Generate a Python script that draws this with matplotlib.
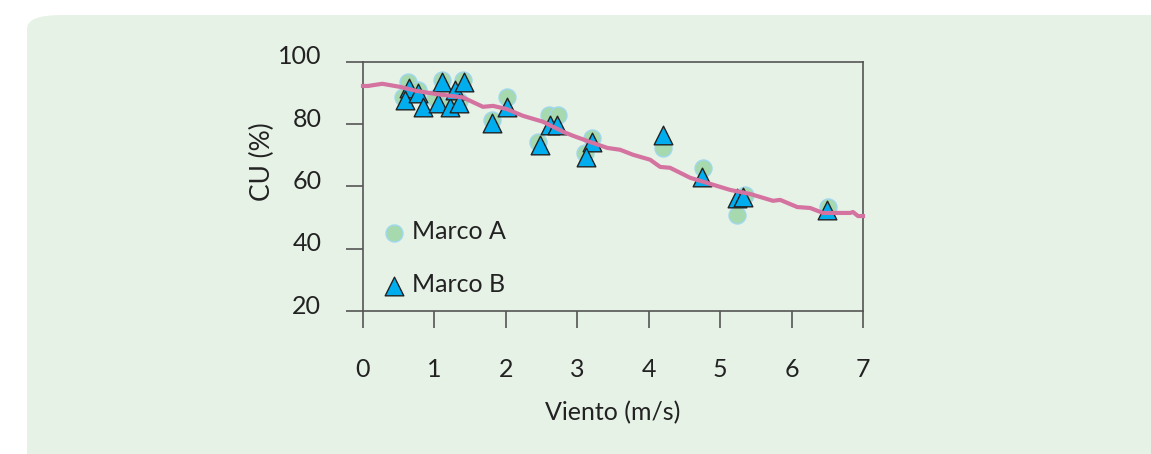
import matplotlib
matplotlib.use("Agg")
import matplotlib.pyplot as plt
from matplotlib.patches import FancyBboxPatch
from matplotlib.transforms import ScaledTranslation

# Marco A (circulos)
viento_a = [0.63, 0.56, 0.77, 1.10, 1.01, 1.22, 1.40, 1.35, 2.01, 1.80,
            2.61, 2.73, 2.45, 3.21, 3.11, 4.20, 4.76, 5.24, 5.35, 6.51]
cu_a = [93.6, 88.8, 91.1, 94.3, 88.5, 86.2, 94.3, 87.5, 88.8, 81.4,
        83.0, 83.0, 74.3, 75.6, 70.8, 72.4, 66.0, 50.9, 57.3, 53.4]

# Marco B (triangulos)
viento_b = [0.65, 0.59, 0.77, 0.84, 1.10, 1.05, 1.22, 1.29, 1.35, 1.41, 2.01,
            1.80, 2.62, 2.72, 2.48, 3.21, 3.12, 4.20, 4.74, 5.24, 5.32, 6.50]
cu_b = [91.7, 87.8, 90.1, 85.6, 93.6, 86.9, 85.6, 91.1, 86.9, 93.6, 85.6,
        80.5, 79.8, 79.8, 73.4, 74.3, 69.5, 76.6, 63.1, 56.3, 56.7, 52.5]

# curva de ajuste
curva_x = [0.0, 0.07, 0.27, 0.52, 0.75, 1.03, 1.40, 1.68, 1.82, 2.01, 2.24,
           2.52, 2.80, 2.94, 3.18, 3.42, 3.60, 3.78, 4.02, 4.16, 4.30, 4.58,
           5.14, 5.42, 5.74, 5.84, 6.08, 6.26, 6.44, 6.82, 6.86, 6.93, 7.0]
curva_y = [92.3, 92.3, 93.0, 92.0, 90.7, 89.7, 88.6, 85.6, 85.9, 84.9, 82.7,
           80.8, 77.6, 76.3, 74.3, 72.4, 71.8, 70.2, 68.6, 66.3, 66.0, 62.8,
           58.9, 57.6, 55.4, 55.7, 53.4, 53.1, 51.5, 51.5, 51.8, 50.5, 50.5]

x_ticks = [0, 1, 2, 3, 4, 5, 6, 7]
y_ticks = [20, 40, 60, 80, 100]

fondo = "#e7f2e7"
plt.rcParams["font.family"] = ["Lato", "DejaVu Sans"]

fig = plt.figure(figsize=(11.51, 4.54), dpi=100)
fig.patch.set_facecolor("white")

# panel de fondo con esquina redondeada (arriba a la izquierda)
panel = FancyBboxPatch((27 / 1151, -0.2), 1.2, (454 - 15) / 454 + 0.2,
                       boxstyle="round,pad=0,rounding_size=0.03",
                       transform=fig.transFigure, facecolor=fondo,
                       edgecolor="none", zorder=-5)
fig.patches.append(panel)

ax = fig.add_axes([363 / 1151, (454 - 311) / 454, 500 / 1151, 249 / 454])
ax.set_facecolor("none")

ax.scatter(viento_a, cu_a, s=150, marker="o", color="#a6d9ad",
           edgecolors="#9fd8ee", linewidths=1.0, label="Marco A", zorder=3)
ax.scatter(viento_b, cu_b, s=180, marker="^", color="#00aeef",
           edgecolors="#222222", linewidths=1.0, label="Marco B", zorder=4)
ax.plot(curva_x, curva_y, color="#d4739f", lw=3, zorder=5, clip_on=False)

ax.set_xlim(0, 7)
ax.set_ylim(20, 100)
ax.set_xticks(x_ticks)
ax.set_yticks(y_ticks)
ax.set_xticklabels([str(t) for t in x_ticks])
ax.tick_params(axis="both", direction="out", length=12, width=1.2,
               color="#555555", labelsize=18, labelcolor="#222222")
ax.tick_params(axis="x", pad=22)
ax.tick_params(axis="y", pad=18)
for s in ax.spines.values():
    s.set_color("#555555")
    s.set_linewidth(1.2)

# etiquetas del eje y un poco por encima de la marca
for lbl in ax.get_yticklabels():
    lbl.set_transform(lbl.get_transform() + ScaledTranslation(0, 7 / 100, fig.dpi_scale_trans))

ax.set_xlabel("Viento (m/s)", fontsize=18, color="#222222")
ax.xaxis.set_label_coords(0.5, -0.36)
ax.set_ylabel("CU (%)", fontsize=19, color="#222222")
ax.yaxis.set_label_coords(-0.176, 0.60)

ax.legend(loc="upper left", bbox_to_anchor=(0.0, 0.425), frameon=False,
          fontsize=18, labelspacing=1.2, handletextpad=0.05, handlelength=1.3,
          borderaxespad=0.2, labelcolor="#222222")

fig.savefig("out.png", dpi=100, facecolor="white")
